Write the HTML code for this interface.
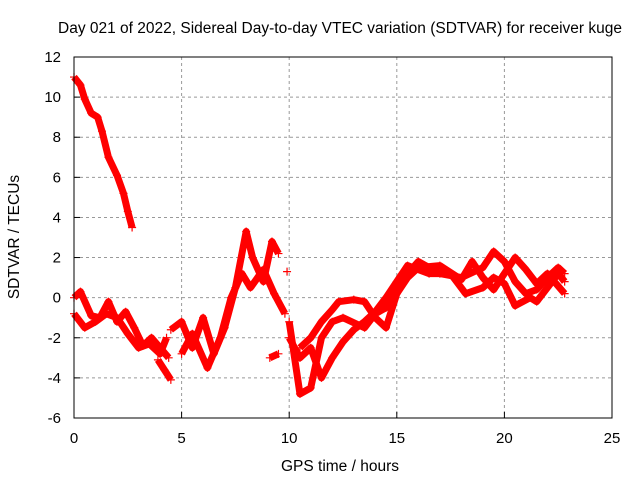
<!DOCTYPE html>
<html><head><meta charset="utf-8"><style>
body{margin:0;background:#fff}
svg{display:block;font-family:"Liberation Sans",sans-serif}
</style></head><body>
<svg id="chart" width="640" height="480">
<text x="340" y="33" text-anchor="middle" font-size="15.5">Day 021 of 2022, Sidereal Day-to-day VTEC variation (SDTVAR) for receiver kuge</text>
<text x="340" y="471" text-anchor="middle" font-size="15.5">GPS time / hours</text>
<text transform="translate(19,237) rotate(-90)" text-anchor="middle" font-size="15.5">SDTVAR / TECUs</text>
<g id="grid"></g><g id="ticks"></g><g id="series"></g>
<rect x="74" y="57" width="538" height="361" fill="none" stroke="#000" stroke-width="1"/>
</svg>
<script>
const xTicks=[0,5,10,15,20,25];
const yTicks=[-6,-4,-2,0,2,4,6,8,10,12];
const tA=[0,0.3,0.5,0.8,1.1,1.3,1.6,2.0,2.3,2.5,2.7];
const vA=[11,10.6,9.9,9.2,9.0,8.3,7.0,6.1,5.2,4.3,3.5];
const tB=[0,0.5,1,1.5,2,2.5,3,3.5,4,4.3];
const vB=[-0.8,-1.5,-1.2,-0.8,-1.0,-1.8,-2.5,-2.3,-2.8,-2.0];
const tC=[0,0.3,0.8,1.2,1.6,2.0,2.4,2.8,3.2,3.6,4.4];
const vC=[0,0.3,-0.9,-1.0,-0.2,-1.2,-0.7,-1.5,-2.4,-2.0,-3.0];
const tC2=[3.9,4.2,4.5];
const vC2=[-3.1,-3.6,-4.1];
const tD=[4.5,5,5.5,6,6.5,7,7.5,8,8.3,8.8,9.2,9.5];
const vD=[-1.6,-1.2,-2.5,-1.0,-2.8,-1.5,0.5,3.3,2.0,0.8,2.8,2.2];
const tE=[5,5.5,6.2,6.8,7.3,7.8,8.2,8.8,9.3,9.8];
const vE=[-2.8,-1.8,-3.5,-2,0,1.2,0.5,1.4,0.2,-0.8];
const tF=[9.1,9.5];
const vF=[-3,-2.8];
const tG=[10,10.5,11,11.5,12,12.5,13.5,14,14.5,15,15.5,16,17,18,19,19.5,20,20.5,21,21.5,22,22.5,22.8];
const vG=[-1.2,-4.8,-4.5,-2,-1.2,-1,-1.5,-0.8,-0.5,0.5,1.2,1.8,1.2,1.0,1.5,2.3,1.8,0.8,0.2,0.4,1.0,1.5,1.2];
const tH=[10,10.5,11,11.5,12,12.5,13,13.5,14,14.5,15,15.5,16.5,17.5,18.2,19,19.5,20,20.5,21.2,21.5,22,22.5,22.8];
const vH=[-2,-3,-2.5,-4,-3,-2.2,-1.6,-1.2,-0.7,0,0.8,1.6,1.2,1.2,0.2,0.5,1,0.7,-0.4,0,-0.2,0.5,1.2,0.8];
const tI=[10.5,11,11.5,12,12.3,13,13.5,14,14.5,15,15.5,16,17,18,18.5,19,19.5,20,20.5,21,21.5,22,22.8];
const vI=[-2.5,-2.0,-1.2,-0.6,-0.2,-0.1,-0.2,-1,-1.5,0.2,1,1.5,1.6,0.9,1.8,1,0.4,1.2,2.0,1.4,0.7,1.2,0.2];
const tP=[9.9];
const vP=[1.3];
const X=t=>74+t*538/25, Y=v=>57+(12-v)*361/18;
const NS='http://www.w3.org/2000/svg';
function mk(tag,at,parent){const e=document.createElementNS(NS,tag);for(const k in at)e.setAttribute(k,at[k]);parent.appendChild(e);return e;}
const grid=document.getElementById('grid'),ticks=document.getElementById('ticks'),ser=document.getElementById('series');
xTicks.forEach(t=>{
 if(t>0&&t<25){const g=mk('line',{x1:X(t),x2:X(t),y1:57,y2:418,stroke:'#999','stroke-dasharray':'3,3'},grid);
 
 }
 const l=mk('text',{x:X(t),y:443,'text-anchor':'middle','font-size':15},ticks);l.textContent=t;
 
 
 mk('line',{x1:X(t),x2:X(t),y1:418,y2:412,stroke:'#000'},ticks);
});
yTicks.forEach(v=>{
 if(v>-6&&v<12){const g=mk('line',{x1:74,x2:612,y1:Y(v),y2:Y(v),stroke:'#999','stroke-dasharray':'3,3'},grid);
 
 }
 const l=mk('text',{x:61,y:Y(v)+5,'text-anchor':'end','font-size':15},ticks);l.textContent=v;
 
 
 mk('line',{x1:74,x2:80,y1:Y(v),y2:Y(v),stroke:'#000'},ticks);
});
const all=[[tA,vA],[tB,vB],[tC,vC],[tC2,vC2],[tD,vD],[tE,vE],[tF,vF],[tG,vG],[tH,vH],[tI,vI],[tP,vP]];
all.forEach(([ts,vs])=>{
 const pts=ts.map((t,i)=>X(t)+','+Y(vs[i])).join(' ');
 if(ts.length>1){const p=mk('polyline',{points:pts,fill:'none',stroke:'#f00','stroke-width':7,'stroke-linejoin':'round'},ser);
 
 }
 ts.forEach((t,i)=>{const m=mk('path',{d:`M${X(t)-4},${Y(vs[i])}h8M${X(t)},${Y(vs[i])-4}v8`,stroke:'#f00','stroke-width':1.2},ser);
 
 });
});
</script>
</body></html>
